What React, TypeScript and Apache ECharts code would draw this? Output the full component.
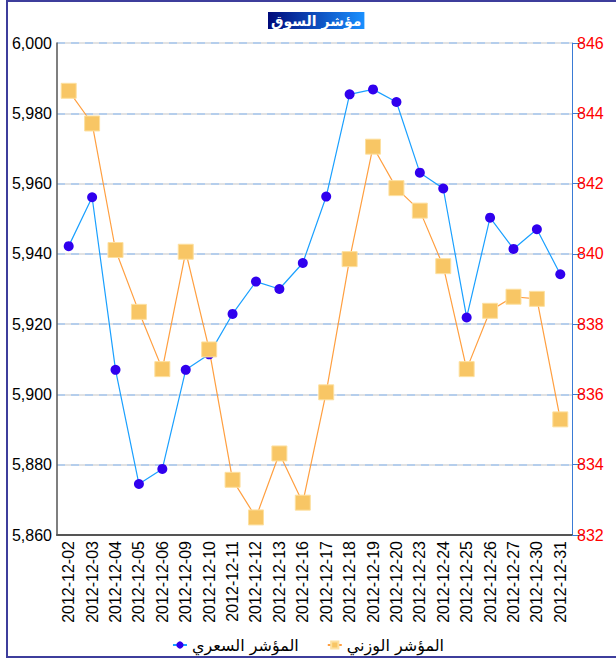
import React, { useEffect, useRef } from "react";
import * as echarts from "echarts";

const categories = [
  "2012-12-02", "2012-12-03", "2012-12-04", "2012-12-05", "2012-12-06",
  "2012-12-09", "2012-12-10", "2012-12-11", "2012-12-12", "2012-12-13",
  "2012-12-16", "2012-12-17", "2012-12-18", "2012-12-19", "2012-12-20",
  "2012-12-23", "2012-12-24", "2012-12-25", "2012-12-26", "2012-12-27",
  "2012-12-30", "2012-12-31",
];

const priceIndex = [
  5942.2, 5956.1, 5907.0, 5874.5, 5878.8, 5907.0, 5911.4, 5922.9, 5932.1, 5930.0,
  5937.4, 5956.3, 5985.4, 5986.8, 5983.2, 5963.1, 5958.6, 5921.9, 5950.3, 5941.4,
  5947.0, 5934.2,
];

const weightedIndex = [
  844.64, 843.71, 840.11, 838.35, 836.72, 840.06, 837.28, 833.57, 832.5, 834.32,
  832.92, 836.06, 839.85, 843.05, 841.87, 841.23, 839.65, 836.72, 838.38, 838.78,
  838.72, 835.29,
];

const titleText = "مؤشر السوق";
const priceName = "المؤشر السعري";
const weightedName = "المؤشر الوزني";

export default function App() {
  const ref = useRef<HTMLDivElement>(null);

  useEffect(() => {
    if (!ref.current) return;
    const chart = echarts.init(ref.current, null, { renderer: "svg" });
    const labelFont = "'Liberation Sans', Arial, sans-serif";
    const arabicFont = "'DejaVu Sans', 'Noto Sans', sans-serif";
    chart.setOption({
      animation: false,
      backgroundColor: "#ffffff",
      title: {
        text: titleText,
        left: 268,
        top: 12,
        padding: [0, 3, 0, 3],
        backgroundColor: {
          type: "linear",
          x: 0, y: 0, x2: 1, y2: 0,
          colorStops: [
            { offset: 0, color: "#000a7a" },
            { offset: 1, color: "#1a90ff" },
          ],
        },
        textStyle: {
          color: "#ffffff",
          fontSize: 14,
          fontWeight: "bold",
          fontFamily: arabicFont,
          lineHeight: 17,
        },
      },
      graphic: [
        {
          type: "rect",
          shape: { x: 7, y: 1, width: 700, height: 656 },
          style: { fill: "none", stroke: "#3d3d9c", lineWidth: 2 },
          silent: true,
        },
      ],
      legend: {
        data: [priceName, weightedName],
        left: "center",
        top: 632,
        itemGap: 28,
        itemWidth: 14,
        itemHeight: 9,
        textStyle: { fontSize: 16, color: "#000", fontFamily: arabicFont },
      },
      grid: { left: 57, right: 44, top: 43, bottom: 123, containLabel: false },
      xAxis: {
        type: "category",
        data: categories,
        boundaryGap: true,
        axisLine: { show: true, lineStyle: { color: "#555555", width: 2 } },
        axisTick: { show: false },
        axisLabel: {
          rotate: 90,
          interval: 0,
          margin: 6,
          color: "#000",
          fontSize: 16,
          fontFamily: labelFont,
        },
        splitLine: { show: false },
      },
      yAxis: [
        {
          type: "value",
          min: 5860,
          max: 6000,
          interval: 20,
          position: "left",
          axisLine: { show: true, lineStyle: { color: "#555555", width: 1.5 } },
          axisTick: { show: false },
          axisLabel: {
            color: "#000",
            fontSize: 16,
            fontFamily: labelFont,
            margin: 5,
            formatter: (v: number) => v.toLocaleString("en-US"),
          },
          splitLine: { show: true, lineStyle: { color: "#d8d8d8", width: 1.5 } },
        },
        {
          type: "value",
          min: 832,
          max: 846,
          interval: 2,
          position: "right",
          axisLine: { show: true, lineStyle: { color: "#3a7bd5", width: 1 } },
          axisTick: { show: true, inside: false, length: 11, lineStyle: { color: "#3a7bd5" } },
          axisLabel: {
            color: "#ff0000",
            fontSize: 16,
            fontFamily: labelFont,
            margin: 5,
          },
          splitLine: {
            show: true,
            lineStyle: { color: "#a7c8f0", width: 1.5, type: [8, 6] },
          },
        },
      ],
      series: [
        {
          name: priceName,
          type: "line",
          yAxisIndex: 0,
          data: priceIndex,
          symbol: "circle",
          symbolSize: 10,
          lineStyle: { color: "#1aa0ff", width: 1.2 },
          itemStyle: { color: "#3000ee", borderWidth: 0 },
        },
        {
          name: weightedName,
          type: "line",
          yAxisIndex: 1,
          data: weightedIndex,
          symbol: "rect",
          symbolSize: 15,
          lineStyle: { color: "#ff9f40", width: 1.2 },
          itemStyle: { color: "#f8c665", borderColor: "#fde0a0", borderWidth: 1 },
        },
      ],
    });
    return () => chart.dispose();
  }, []);

  return (
    <div
      ref={ref}
      style={{ position: "absolute", left: 0, top: 0, width: 616, height: 658 }}
    />
  );
}
